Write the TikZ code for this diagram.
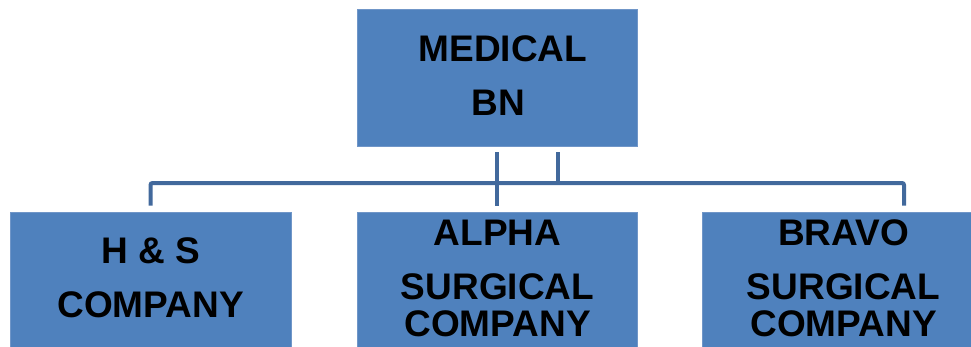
\documentclass[tikz,border=0pt]{standalone}
\usepackage{fontspec}
\setmainfont{Liberation Sans}
\definecolor{boxfill}{HTML}{4F81BD}
\definecolor{boxedge}{HTML}{7096C8}
\definecolor{conn}{RGB}{66,105,156}
\begin{document}
\begin{tikzpicture}[x=1pt,y=-1pt,
  unitbox/.style={rectangle,fill=boxfill,draw=boxedge,line width=0.8pt,inner sep=0pt},
  lbl/.style={font=\fontsize{37}{37}\selectfont\bfseries,text=black,inner sep=0pt,anchor=center},
  connline/.style={draw=conn,line width=4pt}]
\useasboundingbox (0,0) rectangle (971,346);
\clip (0,0) rectangle (971,346);
\node[unitbox,minimum width=280pt,minimum height=137pt] (top) at (497,77.5) {};
\node[unitbox,minimum width=281pt,minimum height=150pt] (hs) at (150.5,287) {};
\node[unitbox,minimum width=280pt,minimum height=150pt] (alpha) at (497,287) {};
\node[unitbox,minimum width=282pt,minimum height=150pt] (bravo) at (843,287) {};
\node[lbl] (t1) at (503,48.5) {MEDICAL};
\node[lbl] (t2) at (498,102.5) {BN};
\node[lbl] (h1) at (150.5,250.5) {H \& S};
\node[lbl] (h2) at (150.5,305) {COMPANY};
\node[lbl] (a1) at (497.5,232.5) {ALPHA};
\node[lbl] (a2) at (497.5,286.5) {SURGICAL};
\node[lbl] (a3) at (497.5,323.5) {COMPANY};
\node[lbl] (b1) at (843.5,232.5) {BRAVO};
\node[lbl] (b2) at (843.5,286.5) {SURGICAL};
\node[lbl] (b3) at (843.5,323.5) {COMPANY};
\coordinate (bus) at (497,183);
\draw[connline] ([yshift=-6pt]top.south) -- ([yshift=6pt]alpha.north);
\draw[connline] ([xshift=61pt,yshift=-6pt]top.south) -- ([xshift=61pt]top.south |- bus);
\draw[connline,rounded corners=2pt] ([yshift=6pt]hs.north) |- (bus) -| ([xshift=61pt,yshift=6pt]bravo.north);
\end{tikzpicture}
\end{document}
